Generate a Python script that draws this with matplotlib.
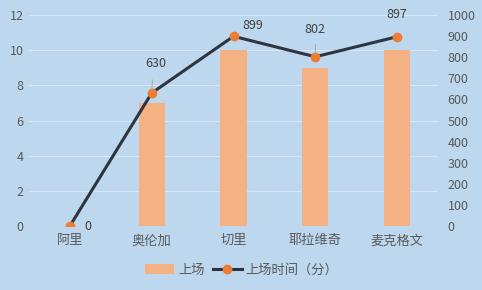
import matplotlib
matplotlib.use("Agg")
import matplotlib.pyplot as plt
from matplotlib.lines import Line2D
from matplotlib.patches import Patch

plt.rcParams['font.family'] = ['Noto Sans CJK SC', 'DejaVu Sans']

categories = ["阿里", "奥伦加", "切里", "耶拉维奇", "麦克格文"]
appearances = [0, 7, 10, 9, 10]
minutes = [0, 630, 899, 802, 897]
left_ticks = [0, 2, 4, 6, 8, 10, 12]
right_ticks = [0, 100, 200, 300, 400, 500, 600, 700, 800, 900, 1000]

bg = "#BDD7EE"
bar_c = "#F4B183"
line_c = "#2E3440"
mark_c = "#ED7D31"
txt_c = "#595959"

fig = plt.figure(figsize=(4.82, 2.90), dpi=100, facecolor=bg)
ax = fig.add_axes([29/482, 1-226/290, (438-29)/482, (226-15)/290])
ax.set_facecolor(bg)
x = list(range(len(categories)))
ax.bar(x, appearances, width=0.32, color=bar_c, zorder=2)
ax.set_ylim(0, 12)
ax.set_xlim(-0.5, len(categories)-0.5)
ax.set_yticks(left_ticks)
ax.set_xticks(x)
ax.set_xticklabels(categories, fontsize=9.5)
for s in ax.spines.values():
    s.set_visible(False)
ax.tick_params(axis='both', length=0, colors=txt_c)
ax.tick_params(axis='y', pad=4, labelsize=9)
ax.tick_params(axis='x', pad=6)
ax.grid(axis='y', color="#D6E6F4", linewidth=0.8, zorder=0)

ax2 = ax.twinx()
ax2.set_ylim(0, 1000)
ax2.set_yticks(right_ticks)
for s in ax2.spines.values():
    s.set_visible(False)
ax2.tick_params(axis='y', length=0, colors=txt_c, labelsize=9, pad=7)
ax2.plot(x, minutes, color=line_c, linewidth=2.2, marker='o', markersize=6,
         markerfacecolor=mark_c, markeredgecolor=mark_c, zorder=3)

# data labels
offsets = [(13, 0), (3, 21), (14, 8), (0, 20), (0, 16)]
for i, (v, (dx, dy)) in enumerate(zip(minutes, offsets)):
    ax2.annotate(str(v), (i, v), xytext=(dx, dy), textcoords='offset points',
                 ha='center', va='center', fontsize=9, color="#404040")
    if i in (1, 3):
        ax2.annotate("", (i, v), xytext=(dx*0.2, dy*0.55), textcoords='offset points',
                     arrowprops=dict(arrowstyle='-', color="#A6A6A6", lw=0.6))

handles = [Patch(facecolor=bar_c, edgecolor='none'),
           Line2D([0], [0], color=line_c, lw=2.2, marker='o', markersize=6,
                  markerfacecolor=mark_c, markeredgecolor=mark_c)]
fig.legend(handles, ["上场", "上场时间（分）"], loc='center', bbox_to_anchor=(242/482, 1-270/290),
           ncol=2, frameon=False, fontsize=9.5, labelcolor=txt_c, handlelength=2.2,
           columnspacing=0.6, handletextpad=0.3)

fig.savefig("out.png", dpi=100, facecolor=bg)
